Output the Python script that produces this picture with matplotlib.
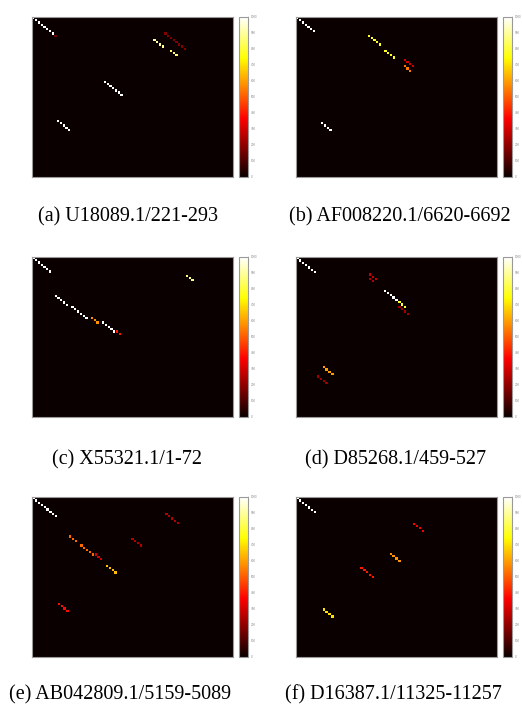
"""Six pair-score matrices with hot colour bars."""

import matplotlib.pyplot as plt
import numpy as np

W, H = 522, 709

# matrix sizes (sequence lengths)
SIZES = [73, 73, 72, 69, 71, 69]

CAPTIONS = [
    "(a) U18089.1/221-293",
    "(b) AF008220.1/6620-6692",
    "(c) X55321.1/1-72",
    "(d) D85268.1/459-527",
    "(e) AB042809.1/5159-5089",
    "(f) D16387.1/11325-11257",
]

# diagonal runs: (start row, start col, length, score)
RUNS_A = [(0, 0, 8, 1000), (8, 8, 1, 150), (29, 26, 7, 1000), (47, 9, 5, 1000),
          (10, 44, 4, 900), (15, 50, 3, 850), (7, 48, 8, 180)]
RUNS_B = [(0, 0, 7, 1000), (8, 26, 5, 780), (15, 32, 4, 780), (19, 39, 4, 300),
          (22, 39, 3, 550), (48, 9, 4, 1000)]
RUNS_C = [(0, 0, 7, 1000), (17, 8, 5, 1000), (22, 14, 6, 1000), (27, 21, 3, 580),
          (29, 25, 5, 1000), (33, 30, 2, 400), (8, 55, 3, 870)]
RUNS_D = [(0, 0, 7, 1000), (7, 25, 3, 280), (9, 25, 2, 250), (14, 30, 5, 1000),
          (19, 35, 3, 800), (21, 35, 4, 220), (47, 9, 4, 600), (51, 7, 4, 220)]
RUNS_E = [(0, 0, 9, 1000), (17, 13, 3, 520), (21, 17, 5, 520), (25, 22, 3, 300),
          (30, 26, 4, 650), (18, 35, 4, 250), (7, 47, 5, 250), (47, 9, 4, 380)]
RUNS_F = [(0, 0, 7, 1000), (11, 40, 4, 360), (24, 32, 4, 580), (30, 22, 5, 400),
          (48, 9, 4, 700)]

ALL_RUNS = [RUNS_A, RUNS_B, RUNS_C, RUNS_D, RUNS_E, RUNS_F]
CBAR_TICKS = list(range(0, 1001, 100))


def build_matrix(n, runs):
    m = np.zeros((n, n))
    for r0, c0, length, score in runs:
        for k in range(length):
            m[r0 + k, c0 + k] = score
    return m


def px_rect(x0, y0, x1, y1):
    return [x0 / W, 1 - y1 / H, (x1 - x0) / W, (y1 - y0) / H]


cmap = plt.get_cmap("hot")
fig = plt.figure(figsize=(W / 100, H / 100), dpi=100)

col_x = [(32, 233, 239, 248), (296, 497, 503, 512)]
row_y = [17, 257, 497]
cap_pos = [(128, 217), (400, 217), (127, 460), (396, 460), (120, 695), (393, 695)]

for idx, (n, runs) in enumerate(zip(SIZES, ALL_RUNS)):
    ax_l, ax_r, cb_l, cb_r = col_x[idx % 2]
    top = row_y[idx // 2]

    m = build_matrix(n, runs)
    rows, cols = np.nonzero(m)

    ax = fig.add_axes(px_rect(ax_l, top, ax_r, top + 160))
    ax.set_facecolor(cmap(0.0))
    sc = ax.scatter(cols, rows, c=m[rows, cols], cmap=cmap, vmin=0, vmax=1000,
                    marker="s", s=2.6, linewidths=0)
    ax.set_xlim(-0.5, n - 0.5)
    ax.set_ylim(n - 0.5, -0.5)
    ax.set_xticks([])
    ax.set_yticks([])
    for s in ax.spines.values():
        s.set_color("#999999")
        s.set_linewidth(0.8)

    cax = fig.add_axes(px_rect(cb_l, top, cb_r, top + 160))
    cb = fig.colorbar(sc, cax=cax, ticks=CBAR_TICKS)
    cb.outline.set_edgecolor("#999999")
    cb.outline.set_linewidth(0.8)
    cax.tick_params(labelsize=2.0, length=1, width=0.3, pad=0.8,
                    colors="#888888")

    cx, cy = cap_pos[idx]
    fig.text(cx / W, 1 - cy / H, CAPTIONS[idx], ha="center", va="center",
             family="Liberation Serif", fontsize=14.5)

fig.savefig("out.png", dpi=100)
